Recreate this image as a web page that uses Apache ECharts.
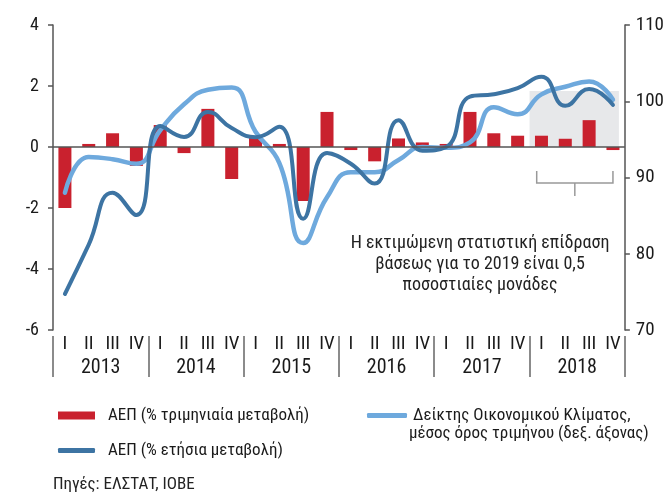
<!DOCTYPE html>
<html>
<head>
<meta charset="utf-8">
<script src="https://cdn.jsdelivr.net/npm/echarts@6/dist/echarts.min.js"></script>
<style>
  html, body { margin: 0; padding: 0; background: #fff; }
  #chart { width: 667px; height: 496px; }
</style>
</head>
<body>
<div id="chart"></div>
<script>
var FONT = "'Liberation Sans Narrow', 'Roboto Condensed', 'DejaVu Sans Condensed', Roboto, sans-serif";

// data
var years = ['2013', '2014', '2015', '2016', '2017', '2018'];
var quarters = ['I', 'II', 'III', 'IV'];
var qoqGdp = [-2.0, 0.1, 0.45, -0.62, 0.72, -0.2, 1.25, -1.05, 0.3, 0.1, -1.77, 1.15,
              -0.1, -0.47, 0.28, 0.15, 0.1, 1.15, 0.45, 0.37, 0.37, 0.27, 0.88, -0.1];
var yoyGdp = [-4.82, -3.2, -1.5, -2.23, 0.69, 0.33, 1.15, 0.62, 0.32, 0.66, -2.35, -0.2,
              -0.55, -1.2, 0.88, -0.12, 0.0, 1.65, 1.73, 1.93, 2.3, 1.35, 1.9, 1.38];
var climate = [88, 92.7, 92.4, 91.8, 96.2, 99.6, 101.5, 101.8, 96, 91.9, 81.4, 87.4,
               90.7, 90.7, 92.3, 94.0, 93.9, 94.6, 99.2, 98.3, 100.9, 101.9, 102.6, 100.2];
var leftAxis = { min: -6, max: 4, interval: 2 };
var rightAxis = { min: 70, max: 110, interval: 10 };
var shadedFrom = 20, shadedTo = 23, shadedTop = 1.84;

var names = {
  qoq: 'ΑΕΠ (% τριμηνιαία μεταβολή)',
  yoy: 'ΑΕΠ (% ετήσια μεταβολή)',
  clim: 'Δείκτης Οικονομικού Κλίματος,\nμέσος όρος τριμήνου (δεξ. άξονας)'
};
var note = 'Η εκτιμώμενη στατιστική επίδραση\nβάσεως για το 2019 είναι 0,5\nποσοστιαίες μονάδες';
var source = 'Πηγές: ΕΛΣΤΑΤ, ΙΟΒΕ';

var categories = [];
years.forEach(function (y) {
  quarters.forEach(function (q) { categories.push(y + ' ' + q); });
});

var chart = echarts.init(document.getElementById('chart'));
var axisColor = '#555';
var textColor = '#1a1a1a';

var option = {
  animation: false,
  textStyle: { fontFamily: FONT },
  grid: { left: 53, right: 37, top: 25, bottom: 166 },
  legend: [
    {
      data: [names.qoq], left: 53, top: 402, icon: 'rect',
      itemWidth: 37, itemHeight: 8,
      textStyle: { fontFamily: FONT, fontSize: 17, color: textColor, padding: [0, 0, 0, 8] }
    },
    {
      data: [names.yoy], left: 53, top: 437, icon: 'roundRect',
      itemWidth: 37, itemHeight: 5,
      textStyle: { fontFamily: FONT, fontSize: 17, color: textColor, padding: [0, 0, 0, 8] }
    },
    {
      // second line of this label is drawn as graphic text below
      data: [names.clim], left: 362, top: 402, icon: 'roundRect',
      itemWidth: 40, itemHeight: 5,
      formatter: function (n) { return n.split('\n')[0]; },
      textStyle: { fontFamily: FONT, fontSize: 17, color: textColor, padding: [0, 0, 0, 1] }
    }
  ],
  xAxis: [
    {
      type: 'category',
      data: categories,
      axisLine: { show: false },
      axisTick: { show: false },
      axisLabel: {
        interval: 0, margin: 5, fontSize: 19, color: textColor, fontFamily: FONT,
        formatter: function (v) { return v.split(' ')[1]; }
      }
    },
    {
      type: 'category',
      data: years,
      position: 'bottom',
      offset: 6,
      axisLine: { show: false },
      axisTick: { show: true, length: 41, lineStyle: { color: '#666', width: 1.5 } },
      axisLabel: { margin: 22, fontSize: 20, color: textColor, fontFamily: FONT }
    }
  ],
  yAxis: [
    {
      type: 'value',
      min: leftAxis.min, max: leftAxis.max, interval: leftAxis.interval,
      axisLine: { show: true, lineStyle: { color: axisColor, width: 1.5 } },
      axisTick: { show: true, length: 5, lineStyle: { color: axisColor, width: 1.5 } },
      splitLine: { show: false },
      axisLabel: { margin: 14, fontSize: 18, color: textColor, fontFamily: FONT }
    },
    {
      type: 'value',
      position: 'right',
      min: rightAxis.min, max: rightAxis.max, interval: rightAxis.interval,
      axisLine: { show: true, lineStyle: { color: axisColor, width: 1.5 } },
      axisTick: { show: true, length: 5, lineStyle: { color: axisColor, width: 1.5 } },
      splitLine: { show: false },
      axisLabel: { margin: 11, fontSize: 19, color: textColor, fontFamily: FONT }
    }
  ],
  series: [
    {
      name: names.qoq,
      type: 'bar',
      data: qoqGdp,
      barWidth: 13,
      itemStyle: { color: '#c9212e' },
      markLine: {
        silent: true,
        symbol: 'none',
        label: { show: false },
        lineStyle: { color: '#555', width: 1.5, type: 'solid' },
        data: [{ yAxis: 0 }]
      }
    },
    {
      name: names.clim,
      type: 'line',
      yAxisIndex: 1,
      data: climate,
      smooth: 0.5,
      showSymbol: false,
      itemStyle: { color: '#6ea9dd' },
      lineStyle: { color: '#6ea9dd', width: 4.5, cap: 'round' }
    },
    {
      name: names.yoy,
      type: 'line',
      data: yoyGdp,
      smooth: 0.5,
      showSymbol: false,
      itemStyle: { color: '#3d74a3' },
      lineStyle: { color: '#3d74a3', width: 4, cap: 'round' }
    }
  ]
};
chart.setOption(option);

// shaded box and bracket for 2018, placed from the axes
var x0 = chart.convertToPixel({ xAxisIndex: 0 }, shadedFrom);
var x1 = chart.convertToPixel({ xAxisIndex: 0 }, shadedTo);
var band = (x1 - x0) / (shadedTo - shadedFrom);
var yTop = chart.convertToPixel({ yAxisIndex: 0 }, shadedTop);
var yZero = chart.convertToPixel({ yAxisIndex: 0 }, 0);
var bl = x0 - band * 0.2, br = x1, bc = (bl + br) / 2;

chart.setOption({
  graphic: [
    {
      type: 'rect', z: 0, silent: true,
      shape: { x: x0 - band / 2, y: yTop, width: (x1 - x0) + band * 0.75, height: yZero - yTop },
      style: { fill: '#e7e8ea' }
    },
    {
      type: 'polyline', silent: true,
      shape: { points: [[bl, yZero + 24], [bl, yZero + 36], [br, yZero + 36], [br, yZero + 24]] },
      style: { stroke: '#999', lineWidth: 1.5, fill: null }
    },
    {
      type: 'line', silent: true,
      shape: { x1: bc, y1: yZero + 36, x2: bc, y2: yZero + 49 },
      style: { stroke: '#999', lineWidth: 1.5 }
    },
    {
      type: 'text', silent: true,
      x: 480, y: 233,
      style: { text: note, align: 'center', font: '18px ' + FONT, lineHeight: 21, fill: '#222' }
    },
    {
      type: 'text', silent: true,
      x: 409, y: 434,
      style: { text: names.clim.split('\n')[1], verticalAlign: 'middle', font: '17px ' + FONT, fill: textColor }
    },
    {
      type: 'text', silent: true,
      x: 53, y: 485,
      style: { text: source, verticalAlign: 'middle', font: '17px ' + FONT, fill: '#222' }
    }
  ]
});
</script>
</body>
</html>
